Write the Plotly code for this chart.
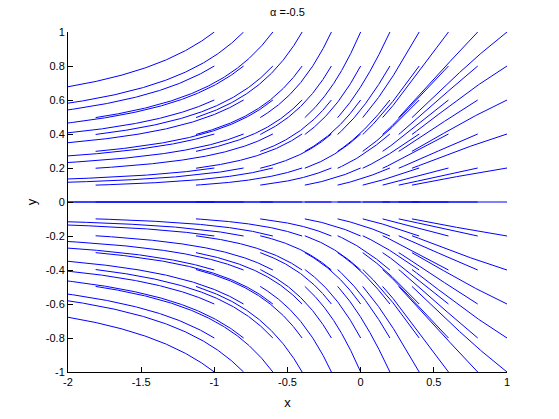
import numpy as np
import plotly.graph_objects as go

# ---- data / parameters -------------------------------------------------
alpha = -0.5                      # system: x' = alpha - x^2, y' = -y
t_end = 0.7                       # integration time for every trajectory
x_seeds = [-1.0, -0.8, -0.6, -0.4, -0.2, 0.0, 0.2, 0.4, 0.6, 0.8, 1.0]
y_seeds = [-1.0, -0.8, -0.6, -0.4, -0.2, 0.0, 0.2, 0.4, 0.6, 0.8, 1.0]
x_range = [-2.0, 1.0]
y_range = [-1.0, 1.0]
x_ticks = [-2, -1.5, -1, -0.5, 0, 0.5, 1]
x_ticklabels = ["-2", "-1.5", "-1", "-0.5", "0", "0.5", "1"]
y_ticks = [-1, -0.8, -0.6, -0.4, -0.2, 0, 0.2, 0.4, 0.6, 0.8, 1]
y_ticklabels = ["-1", "-0.8", "-0.6", "-0.4", "-0.2", "0", "0.2", "0.4", "0.6", "0.8", "1"]
title_text = "\u03b1 =-0.5"


def rhs(x, y):
    return alpha - x ** 2, -y


def trajectory(xs, ys, T, nsteps=300):
    h = T / nsteps
    xa, ya = [xs], [ys]
    x, y = xs, ys
    for _ in range(nsteps):
        k1 = rhs(x, y)
        k2 = rhs(x + h / 2 * k1[0], y + h / 2 * k1[1])
        k3 = rhs(x + h / 2 * k2[0], y + h / 2 * k2[1])
        k4 = rhs(x + h * k3[0], y + h * k3[1])
        x = x + h / 6 * (k1[0] + 2 * k2[0] + 2 * k3[0] + k4[0])
        y = y + h / 6 * (k1[1] + 2 * k2[1] + 2 * k3[1] + k4[1])
        xa.append(x)
        ya.append(y)
        if x < x_range[0] - 0.05:
            break
    return xa, ya


X, Y = [], []
for ys in y_seeds:
    for xs in x_seeds:
        xa, ya = trajectory(xs, ys, t_end)
        X.extend(xa + [None])
        Y.extend(ya + [None])

fig = go.Figure()
fig.add_trace(go.Scatter(x=X, y=Y, mode="lines",
                         line=dict(color="#0000ff", width=1),
                         hoverinfo="skip", showlegend=False))

font = dict(family="Liberation Sans, Arial, sans-serif", size=11, color="black")
fig.update_layout(
    width=559, height=419,
    margin=dict(l=68, r=52, t=32, b=47),
    paper_bgcolor="white", plot_bgcolor="white",
    font=font,
    title=dict(text=title_text, x=287.5 / 559, xref="container", xanchor="center",
               y=1 - 12 / 419, yref="container", yanchor="middle",
               font=dict(size=11)),
    xaxis=dict(range=x_range, tickvals=x_ticks, ticktext=x_ticklabels,
               ticks="inside", ticklen=5, tickcolor="black", showline=True,
               linecolor="black", linewidth=1, showgrid=False, zeroline=False,
               mirror=False, automargin=False, title=dict(text="x", standoff=10)),
    yaxis=dict(range=y_range, tickvals=y_ticks, ticktext=y_ticklabels,
               ticks="inside", ticklen=5, tickcolor="black", showline=True,
               linecolor="black", linewidth=1, showgrid=False, zeroline=False,
               mirror=False, automargin=False, title=dict(text="y", standoff=6)),
)
fig.write_html("out.html", config={"displayModeBar": False},
               post_script="document.body.style.margin='0';")
